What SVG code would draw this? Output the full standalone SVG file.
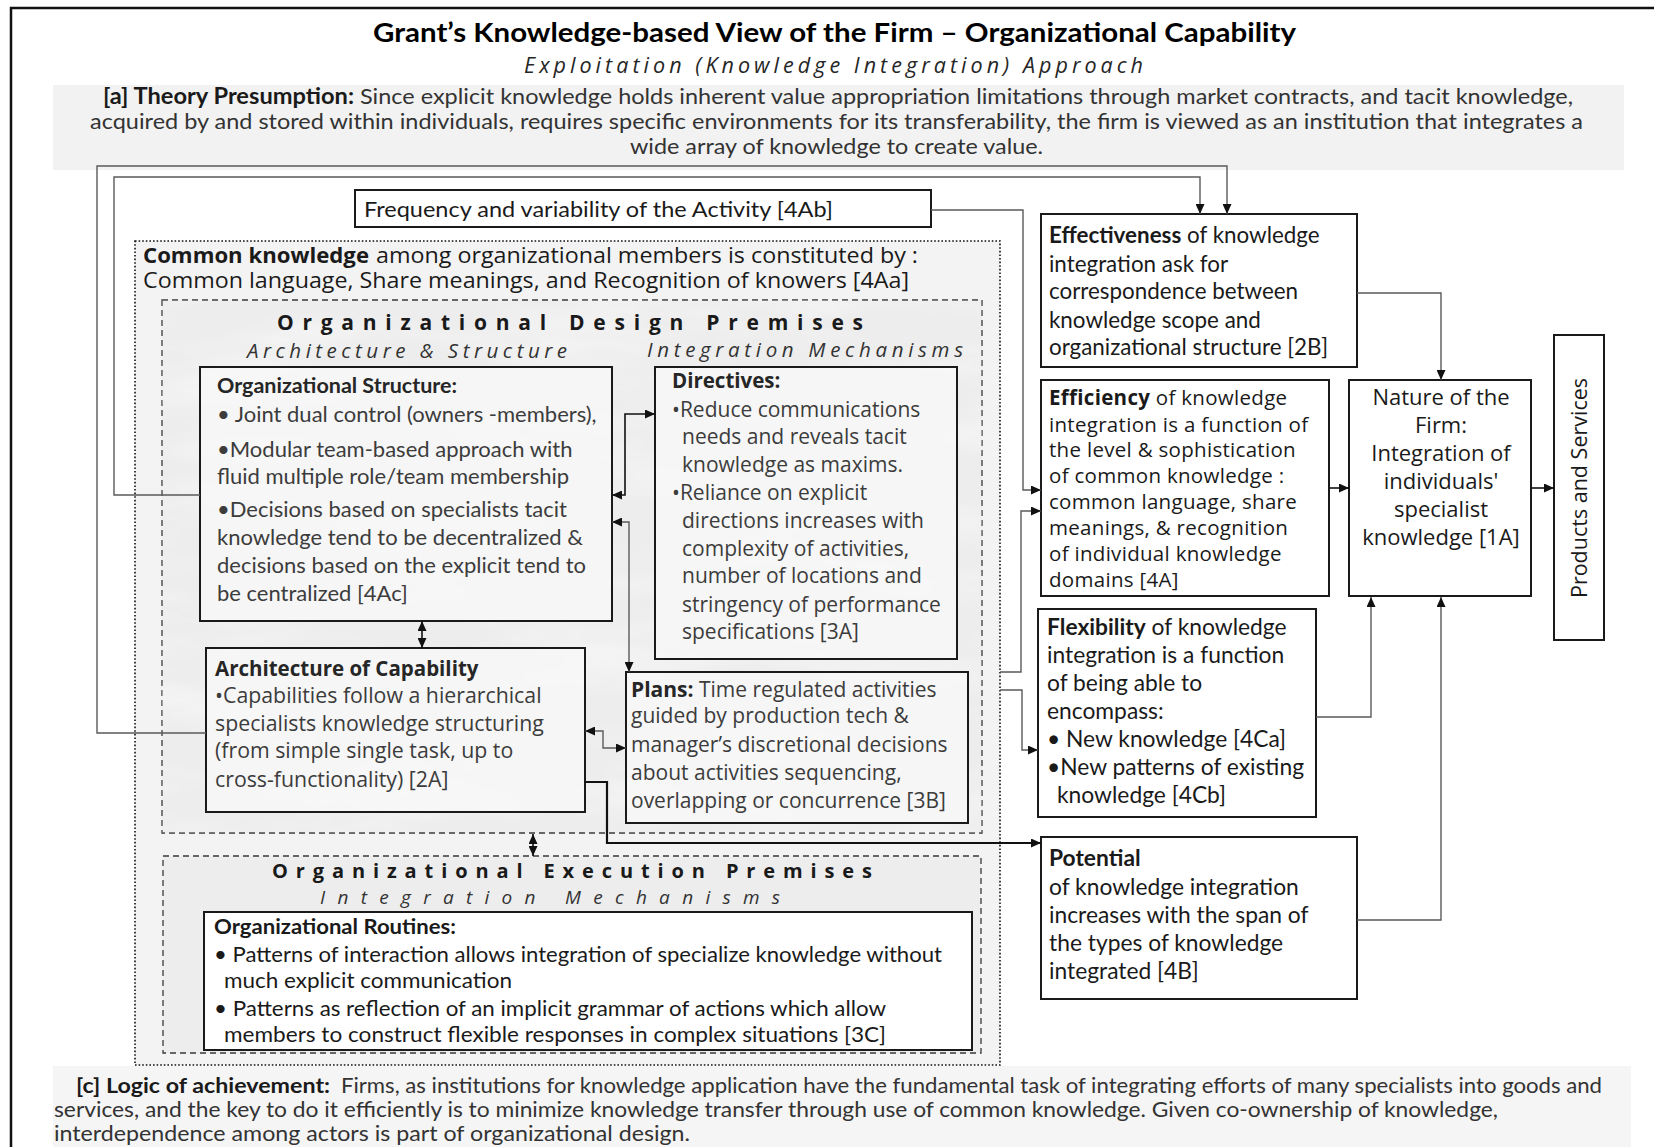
<svg xmlns="http://www.w3.org/2000/svg" width="1654" height="1147" viewBox="0 0 1654 1147">
  <defs>
    <style>
      .cal { font-family: Lato, "Liberation Sans", sans-serif; }
      .seg { font-family: "Open Sans", "Noto Sans", sans-serif; }
      .b { font-weight: 700; }
      .it { font-style: italic; }
      .ink { fill: #1a1a1a; }
      .grey { fill: #3c3c3c; }
      .box { fill: #ffffff; stroke: #1a1a1a; stroke-width: 2; }
      .ibox { fill: #f8f8f8; fill-opacity: 0.75; stroke: #1a1a1a; stroke-width: 2; }
      .prem { fill: #ededed; stroke: #3a3a3a; stroke-width: 1.3; stroke-dasharray: 6 4; }
      .conn { fill: none; stroke: #5a5a5a; stroke-width: 1.4; }
      .conn-k { fill: none; stroke: #111111; stroke-width: 1.6; }
      .conn-b { fill: none; stroke: #111111; stroke-width: 2.2; }
    </style>
    <marker id="arr" viewBox="0 0 10 9" refX="10" refY="4.5" markerWidth="10" markerHeight="9" markerUnits="userSpaceOnUse" orient="auto-start-reverse">
      <path d="M0,0 L10,4.5 L0,9 z" fill="#111111"/>
    </marker>
    <!-- soft marble streaks for the premise panels -->
    <filter id="marble" x="0" y="0" width="100%" height="100%">
      <feTurbulence type="fractalNoise" baseFrequency="0.006 0.022" numOctaves="4" seed="11"/>
      <feColorMatrix type="matrix" values="0 0 0 0 1  0 0 0 0 1  0 0 0 0 1  0.9 0 0 0 -0.38"/>
    </filter>
    <clipPath id="premClip">
      <rect x="162" y="300" width="820" height="533"/>
      <rect x="163" y="856" width="818" height="197"/>
    </clipPath>
  </defs>

  <rect x="0" y="0" width="1654" height="1147" fill="#ffffff"/>
  <!-- outer frame -->
  <path d="M11,1147 V8 H1654" fill="none" stroke="#111111" stroke-width="2.5"/>

  <g id="title">
    <text class="cal b" x="373" y="42" font-size="26" textLength="923" lengthAdjust="spacingAndGlyphs" fill="#000000">Grant’s Knowledge-based View of the Firm – Organizational Capability</text>
    <text class="seg it" x="524" y="73" font-size="21.5" textLength="619" lengthAdjust="spacing" fill="#262626">Exploitation (Knowledge Integration) Approach</text>
  </g>

  <g id="theory-presumption">
    <rect x="53" y="85" width="1571" height="85" fill="#f2f2f2"/>
    <text class="cal b ink" x="103" y="104" font-size="22" textLength="251" lengthAdjust="spacingAndGlyphs">[a] Theory Presumption:</text>
    <text class="cal" x="360" y="104" font-size="22" textLength="1213" lengthAdjust="spacingAndGlyphs" fill="#333333">Since explicit knowledge holds inherent value appropriation limitations through market contracts, and tacit knowledge,</text>
    <text class="cal" x="90" y="129" font-size="22" textLength="1493" lengthAdjust="spacingAndGlyphs" fill="#333333">acquired by and stored within individuals, requires specific environments for its transferability, the firm is viewed as an institution that integrates a</text>
    <text class="cal" x="630" y="154" font-size="22" textLength="413" lengthAdjust="spacingAndGlyphs" fill="#333333">wide array of knowledge to create value.</text>
  </g>

  <g id="frequency">
    <rect class="box" x="355" y="190" width="576" height="37"/>
    <text class="cal ink" x="364" y="217" font-size="21.5" textLength="469" lengthAdjust="spacingAndGlyphs">Frequency and variability  of the Activity [4Ab]</text>
  </g>

  <g id="common-knowledge">
    <rect x="135" y="241" width="865" height="824" fill="#f3f3f3" stroke="#111111" stroke-width="1.6" stroke-dasharray="1.6 2"/>
    <text class="seg b ink" x="143" y="263" font-size="21" textLength="226" lengthAdjust="spacingAndGlyphs">Common knowledge</text>
    <text class="seg ink" x="376" y="263" font-size="21" textLength="542" lengthAdjust="spacingAndGlyphs">among organizational members is constituted by :</text>
    <text class="seg ink" x="143" y="288" font-size="21" textLength="766" lengthAdjust="spacingAndGlyphs">Common language, Share meanings, and Recognition of knowers [4Aa]</text>
  </g>

  <g id="design-premises">
    <rect class="prem" x="162" y="300" width="820" height="533"/>
    <rect x="135" y="241" width="865" height="824" fill="#000000" filter="url(#marble)" clip-path="url(#premClip)"/>
    <text class="seg b ink" x="277" y="330" font-size="21" textLength="586" lengthAdjust="spacing">Organizational Design Premises</text>
    <text class="seg it" x="247" y="358" font-size="20.5" textLength="320" lengthAdjust="spacing" fill="#333333">Architecture &amp; Structure</text>
    <text class="seg it" x="647" y="357" font-size="20.5" textLength="316" lengthAdjust="spacing" fill="#333333">Integration Mechanisms</text>
  </g>

  <g id="execution-premises">
    <rect class="prem" x="163" y="856" width="818" height="197"/>
    <text class="seg b ink" x="272" y="878" font-size="20" textLength="600" lengthAdjust="spacing">Organizational Execution Premises</text>
    <text class="seg it" x="320" y="904" font-size="19" textLength="460" lengthAdjust="spacing" fill="#333333">Integration Mechanisms</text>
  </g>

  <g id="organizational-structure">
    <rect class="ibox" x="200" y="367" width="412" height="254"/>
    <text class="cal b" x="217" y="393" font-size="21.5" fill="#262626">Organizational Structure:</text>
    <g class="cal grey" font-size="22">
      <text x="217" y="422">• Joint dual control (owners -members),</text>
      <text x="217" y="457">•Modular team-based  approach with</text>
      <text x="217" y="484">fluid multiple role/team  membership</text>
      <text x="217" y="517">•Decisions  based on specialists tacit</text>
      <text x="217" y="545">knowledge  tend to be decentralized  &amp;</text>
      <text x="217" y="573">decisions based on  the explicit tend to</text>
      <text x="217" y="601">be centralized  [4Ac]</text>
    </g>
  </g>

  <g id="directives">
    <rect class="ibox" x="655" y="367" width="302" height="292"/>
    <text class="seg b" x="672" y="388" font-size="20.5" fill="#262626">Directives:</text>
    <g class="seg grey" font-size="21">
      <text x="672" y="417">•Reduce communications</text>
      <text x="682" y="444">needs  and reveals tacit</text>
      <text x="682" y="472">knowledge as maxims.</text>
      <text x="672" y="500">•Reliance on explicit</text>
      <text x="682" y="528">directions increases with</text>
      <text x="682" y="556">complexity of activities,</text>
      <text x="682" y="583">number of locations and</text>
      <text x="682" y="612">stringency of performance</text>
      <text x="682" y="639">specifications [3A]</text>
    </g>
  </g>

  <g id="architecture-of-capability">
    <rect class="ibox" x="206" y="648" width="379" height="164"/>
    <text class="seg b" x="215" y="676" font-size="20.5" fill="#262626">Architecture of  Capability</text>
    <g class="seg grey" font-size="21.3">
      <text x="215" y="703">•Capabilities follow a hierarchical</text>
      <text x="215" y="731">specialists knowledge  structuring</text>
      <text x="215" y="758">(from simple single task, up to</text>
      <text x="215" y="787">cross-functionality) [2A]</text>
    </g>
  </g>

  <g id="plans">
    <rect class="ibox" x="626" y="672" width="342" height="151"/>
    <g class="seg grey" font-size="21">
      <text x="631" y="697"><tspan class="b" fill="#262626">Plans:</tspan>  Time regulated activities</text>
      <text x="631" y="723">guided by production tech &amp;</text>
      <text x="631" y="752">manager’s discretional decisions</text>
      <text x="631" y="780">about activities sequencing,</text>
      <text x="631" y="808">overlapping or concurrence [3B]</text>
    </g>
  </g>

  <g id="organizational-routines">
    <rect class="box" x="204" y="912" width="768" height="138"/>
    <text class="cal b ink" x="214" y="934" font-size="21" textLength="242" lengthAdjust="spacingAndGlyphs">Organizational Routines:</text>
    <g class="cal ink" font-size="21">
      <text x="214" y="962" textLength="728" lengthAdjust="spacingAndGlyphs">• Patterns of interaction allows integration of specialize knowledge without</text>
      <text x="224" y="988" textLength="288" lengthAdjust="spacingAndGlyphs">much explicit communication</text>
      <text x="214" y="1016" textLength="672" lengthAdjust="spacingAndGlyphs">•  Patterns as reflection of an implicit grammar of actions which  allow</text>
      <text x="224" y="1042" textLength="662" lengthAdjust="spacingAndGlyphs">members to construct flexible responses in complex situations [3C]</text>
    </g>
  </g>

  <g id="effectiveness">
    <rect class="box" x="1041" y="214" width="316" height="153"/>
    <g class="cal ink" font-size="22.4">
      <text x="1049" y="243"><tspan class="b">Effectiveness</tspan>  of knowledge</text>
      <text x="1049" y="272">integration  ask for</text>
      <text x="1049" y="299">correspondence between</text>
      <text x="1049" y="328">knowledge scope and</text>
      <text x="1049" y="355">organizational structure [2B]</text>
    </g>
  </g>

  <g id="efficiency">
    <rect class="box" x="1041" y="380" width="288" height="216" stroke-width="2.4"/>
    <g class="seg ink" font-size="20.5" letter-spacing="0.3">
      <text x="1049" y="405"><tspan class="b">Efficiency</tspan> of  knowledge</text>
      <text x="1049" y="432">integration is a function of</text>
      <text x="1049" y="457">the level  &amp; sophistication</text>
      <text x="1049" y="483">of common knowledge  :</text>
      <text x="1049" y="509">common language, share</text>
      <text x="1049" y="535">meanings, &amp; recognition</text>
      <text x="1049" y="561">of individual  knowledge</text>
      <text x="1049" y="587">domains [4A]</text>
    </g>
  </g>

  <g id="nature-of-the-firm">
    <rect class="box" x="1349" y="380" width="182" height="216" stroke-width="2.4"/>
    <g class="seg ink" font-size="22" text-anchor="middle">
      <text x="1441" y="405">Nature of the</text>
      <text x="1441" y="433">Firm:</text>
      <text x="1441" y="461">Integration of</text>
      <text x="1441" y="489">individuals'</text>
      <text x="1441" y="517">specialist</text>
      <text x="1441" y="545">knowledge [1A]</text>
    </g>
  </g>

  <g id="products-and-services">
    <rect class="box" x="1554" y="335" width="50" height="305"/>
    <text class="seg ink" x="1587" y="488" font-size="21.5" text-anchor="middle" transform="rotate(-90 1587 488)">Products and Services</text>
  </g>

  <g id="flexibility">
    <rect class="box" x="1038" y="609" width="278" height="208" stroke-width="2.4"/>
    <g class="cal ink" font-size="22.8">
      <text x="1047" y="635"><tspan class="b">Flexibility</tspan>  of knowledge</text>
      <text x="1047" y="663">integration  is a function</text>
      <text x="1047" y="691">of being able to</text>
      <text x="1047" y="719">encompass:</text>
      <text x="1047" y="747">• New knowledge  [4Ca]</text>
      <text x="1047" y="775">•New patterns of existing</text>
      <text x="1057" y="803">knowledge [4Cb]</text>
    </g>
  </g>

  <g id="potential">
    <rect class="box" x="1041" y="837" width="316" height="162"/>
    <g class="cal ink" font-size="22.8">
      <text class="b" x="1049" y="866">Potential</text>
      <text x="1049" y="895">of knowledge integration</text>
      <text x="1049" y="923">increases  with  the span of</text>
      <text x="1049" y="951">the  types of knowledge</text>
      <text x="1049" y="979">integrated  [4B]</text>
    </g>
  </g>

  <g id="logic-of-achievement">
    <rect x="53" y="1066" width="1578" height="81" fill="#f5f5f5"/>
    <text class="cal b ink" x="76" y="1093" font-size="21" textLength="254" lengthAdjust="spacingAndGlyphs">[c] Logic of achievement:</text>
    <text class="cal" x="341" y="1093" font-size="21" textLength="1261" lengthAdjust="spacingAndGlyphs" fill="#333333">Firms, as institutions for knowledge application have the fundamental task of integrating efforts of many specialists into goods and</text>
    <text class="cal" x="54" y="1117" font-size="21" textLength="1444" lengthAdjust="spacingAndGlyphs" fill="#333333">services, and the key to do it efficiently is to minimize knowledge transfer through use of common knowledge. Given co-ownership of knowledge,</text>
    <text class="cal" x="54" y="1141" font-size="21" textLength="636" lengthAdjust="spacingAndGlyphs" fill="#333333">interdependence among actors is part of organizational design.</text>
  </g>

  <g id="connectors">
    <!-- feedback loops from the capability architecture and structure to effectiveness -->
    <path class="conn" d="M206,733 H97 V166 H1227 V214" marker-end="url(#arr)"/>
    <path class="conn" d="M200,495 H114 V177 H1200 V214" marker-end="url(#arr)"/>
    <!-- inputs to efficiency and flexibility -->
    <path class="conn" d="M931,210 H1023 V490 H1041" marker-end="url(#arr)"/>
    <path class="conn" d="M1000,672 H1021 V511 H1041" marker-end="url(#arr)"/>
    <path class="conn" d="M1000,690 H1022 V750 H1038" marker-end="url(#arr)"/>
    <!-- architecture to potential -->
    <path class="conn-b" d="M585,782 H607 V843 H1041" marker-end="url(#arr)"/>
    <!-- into the nature of the firm -->
    <path class="conn" d="M1357,293 H1441 V380" marker-end="url(#arr)"/>
    <path class="conn-k" d="M1329,488 H1349" marker-end="url(#arr)"/>
    <path class="conn-k" d="M1531,488 H1554" marker-end="url(#arr)"/>
    <path class="conn" d="M1316,717 H1371 V597" marker-end="url(#arr)"/>
    <path class="conn" d="M1357,920 H1441 V597" marker-end="url(#arr)"/>
    <!-- two-way links inside the design premises -->
    <path class="conn-k" d="M612,495 H625 V414 H655" marker-start="url(#arr)" marker-end="url(#arr)"/>
    <path class="conn" d="M612,522 H629 V672" marker-start="url(#arr)" marker-end="url(#arr)"/>
    <path class="conn" d="M585,731 H603 V748 H626" marker-start="url(#arr)" marker-end="url(#arr)"/>
    <path class="conn-k" d="M422,621 V648" marker-start="url(#arr)" marker-end="url(#arr)"/>
    <path class="conn-k" d="M533,834 V856" marker-start="url(#arr)" marker-end="url(#arr)"/>
  </g>
</svg>
